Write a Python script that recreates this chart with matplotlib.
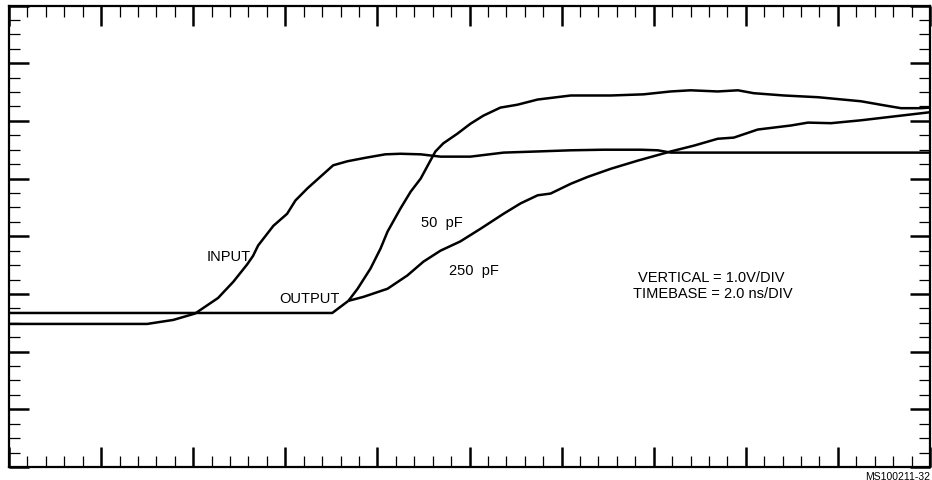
import matplotlib.pyplot as plt
import numpy as np

plt.rcParams["font.family"] = ["Liberation Sans Narrow", "Liberation Sans", "DejaVu Sans"]

# time in ns (2.0 ns/div), level in V (1.0 V/div)
input_t = [0.0, 3.0, 3.57, 4.04, 4.54, 4.87, 5.17, 5.30, 5.41, 5.74, 6.04, 6.22,
           6.48, 6.76, 7.04, 7.35, 7.74, 8.17, 8.50, 8.94, 9.37, 10.02, 10.74,
           11.48, 12.20, 12.91, 13.72, 14.09, 14.37, 14.80, 20.0]
input_v = [2.48, 2.48, 2.55, 2.66, 2.93, 3.21, 3.51, 3.66, 3.84, 4.18, 4.39, 4.62,
           4.83, 5.03, 5.23, 5.30, 5.36, 5.42, 5.43, 5.42, 5.38, 5.38, 5.45,
           5.47, 5.49, 5.50, 5.50, 5.49, 5.45, 5.45, 5.45]

# output baseline shared by both loads before they split
base_t = [0.0, 7.02, 7.37]
base_v = [2.67, 2.67, 2.88]

out50_t = [7.37, 7.57, 7.85, 8.07, 8.22, 8.50, 8.72, 8.94, 9.15, 9.26, 9.43,
           9.74, 10.02, 10.30, 10.67, 11.04, 11.48, 12.20, 13.07, 13.78, 14.37,
           14.80, 15.39, 15.83, 16.17, 16.83, 17.57, 18.50, 19.00, 19.37, 19.80, 20.0]
out50_v = [2.88, 3.09, 3.44, 3.79, 4.08, 4.48, 4.77, 5.00, 5.31, 5.47, 5.61,
           5.78, 5.95, 6.09, 6.23, 6.28, 6.37, 6.44, 6.44, 6.46, 6.51,
           6.53, 6.51, 6.53, 6.48, 6.44, 6.41, 6.34, 6.27, 6.22, 6.22, 6.23]

out250_t = [7.37, 7.70, 8.22, 8.65, 9.00, 9.37, 9.80, 10.24, 10.74, 11.11, 11.48,
            11.76, 12.20, 12.57, 13.07, 13.65, 14.37, 14.87, 15.39, 15.74, 16.26,
            16.98, 17.35, 17.85, 18.50, 20.0]
out250_v = [2.88, 2.95, 3.09, 3.32, 3.56, 3.75, 3.91, 4.13, 4.39, 4.57, 4.71,
            4.74, 4.91, 5.03, 5.17, 5.31, 5.47, 5.57, 5.69, 5.71, 5.85,
            5.92, 5.97, 5.96, 6.01, 6.15]

fig = plt.figure(figsize=(9.32, 4.81), dpi=100)
ax = fig.add_axes([9 / 932, 13 / 481, 921 / 932, 461.5 / 481])

line_kw = dict(color="black", lw=1.8, solid_joinstyle="round", solid_capstyle="butt")
ax.plot(input_t, input_v, **line_kw)
ax.plot(base_t, base_v, **line_kw)
ax.plot(out50_t, out50_v, **line_kw)
ax.plot(out250_t, out250_v, **line_kw)

ax.set_xlim(0, 20)
ax.set_ylim(0, 8)
ax.set_xticks(np.arange(0, 20.1, 2))
ax.set_xticks(np.arange(0, 20.1, 0.4), minor=True)
ax.set_yticks(np.arange(0, 8.1, 1))
ax.set_yticks(np.arange(0, 8.01, 0.25), minor=True)
ax.tick_params(which="both", direction="in", top=True, right=True,
               labelbottom=False, labelleft=False)
ax.tick_params(which="major", length=14.5, width=1.8)
ax.tick_params(which="minor", length=7.8, width=0.9)
for s in ax.spines.values():
    s.set_linewidth(1.6)

txt = dict(fontsize=10.5, ha="center", va="center")
ax.text(4.76, 3.65, "INPUT", **txt)
ax.text(6.52, 2.93, "OUTPUT", **txt)
ax.text(9.41, 4.24, "50  pF", **txt)
ax.text(10.09, 3.42, "250  pF", **txt)
ax.text(15.26, 3.30, "VERTICAL = 1.0V/DIV", **txt)
ax.text(15.28, 3.02, "TIMEBASE = 2.0 ns/DIV", **txt)

fig.text(930 / 932, 1 - 472 / 481, "MS100211-32", family="Liberation Sans",
         fontsize=7.5, ha="right", va="top")

fig.savefig("out.png", dpi=100)
